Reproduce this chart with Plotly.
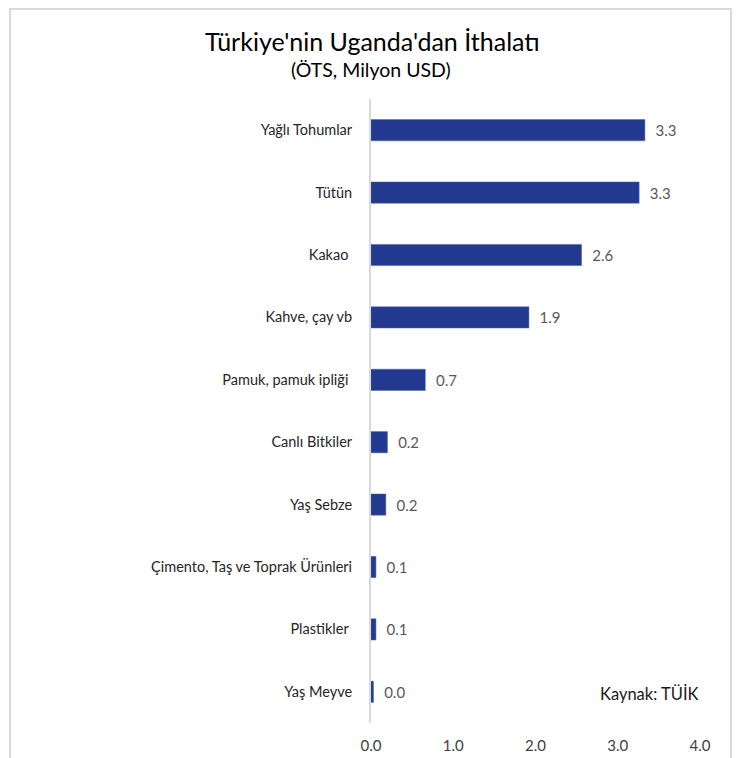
import plotly.graph_objects as go

# Türkiye'nin Uganda'dan ithalatı (ÖTS, Milyon USD) - kaynak: TÜİK
urunler = ["Yağlı Tohumlar", "Tütün", "Kakao ", "Kahve, çay vb", "Pamuk, pamuk ipliği ",
           "Canlı Bitkiler", "Yaş Sebze", "Çimento, Taş ve Toprak Ürünleri", "Plastikler ", "Yaş Meyve"]
degerler = [3.33, 3.26, 2.56, 1.92, 0.66, 0.2, 0.18, 0.06, 0.06, 0.03]
etiketler = ["3.3", "3.3", "2.6", "1.9", "0.7", "0.2", "0.2", "0.1", "0.1", "0.0"]
x_ticks = [0, 1, 2, 3, 4]
x_tick_text = ["0.0", "1.0", "2.0", "3.0", "4.0"]

# sayfa gövdesinin 8px kenar boşluğu var, figürü ona göre kaydırıyoruz
OFF = 8
W, H = 742 - 2 * OFF, 758 - OFF
L, R, T, B = 371 - OFF, W - (700 - OFF), 99 - OFF, H - (723 - OFF)
pw, ph = W - L - R, H - T - B

def px_x(x):
    return (x - OFF - L) / pw

def px_y(y):
    return 1 - (y - OFF - T) / ph

fuente = "Lato, 'Open Sans', sans-serif"

fig = go.Figure(go.Bar(
    x=degerler, y=urunler, orientation="h",
    marker=dict(color="#22398f", line=dict(color="#4a62b0", width=0.5)),
    width=0.34,
    text=["\u00a0\u00a0" + t for t in etiketler], textposition="outside", cliponaxis=False,
    textfont=dict(family=fuente, size=15, color="#595959"),
))

borde = dict(color="#d9d9d9", width=2)
fig.update_layout(
    width=W, height=H,
    margin=dict(l=L, r=R, t=T, b=B),
    paper_bgcolor="white", plot_bgcolor="white",
    showlegend=False,
    font=dict(family=fuente, size=14, color="#262626"),
    xaxis=dict(range=[0, 4], tickvals=x_ticks, ticktext=x_tick_text, automargin=False,
               showgrid=False, zeroline=False, showline=False,
               tickfont=dict(size=15, color="#404040"), ticks="outside",
               ticklen=9, tickcolor="rgba(0,0,0,0)"),
    yaxis=dict(categoryorder="array", categoryarray=urunler[::-1], automargin=False,
               showgrid=False, zeroline=False, showline=True,
               linecolor="#d9d9d9", linewidth=2,
               ticks="outside", ticklen=14, tickcolor="rgba(0,0,0,0)",
               tickfont=dict(size=14.5, color="#262626")),
    shapes=[
        dict(type="rect", xref="paper", yref="paper",
             x0=px_x(10), x1=px_x(731), y0=px_y(790), y1=px_y(9),
             line=borde, fillcolor="rgba(0,0,0,0)", layer="below"),
    ],
    annotations=[
        dict(text="Türkiye'nin Uganda'dan İthalatı", xref="paper", yref="paper",
             x=px_x(372), y=px_y(41), xanchor="center", yanchor="middle", showarrow=False,
             font=dict(size=25, color="#000000")),
        dict(text="(ÖTS, Milyon USD)", xref="paper", yref="paper",
             x=px_x(371), y=px_y(70), xanchor="center", yanchor="middle", showarrow=False,
             font=dict(size=19.5, color="#000000")),
        dict(text="Kaynak: TÜİK", xref="paper", yref="paper",
             x=px_x(649), y=px_y(694), xanchor="center", yanchor="middle", showarrow=False,
             font=dict(size=16.5, color="#1a1a1a")),
    ],
)

fig.write_html("out.html")
